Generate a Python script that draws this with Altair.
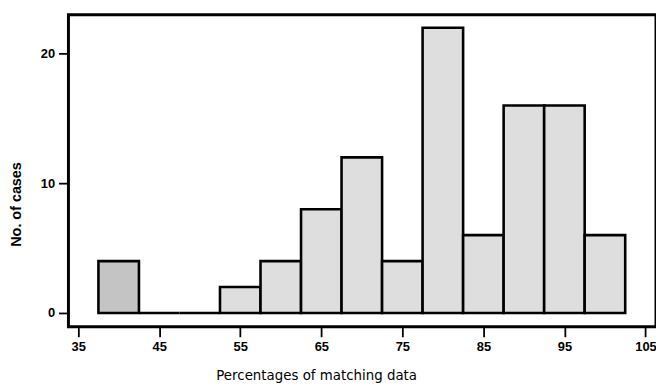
import altair as alt
import pandas as pd

bin_centers = [40, 45, 50, 55, 60, 65, 70, 75, 80, 85, 90, 95, 100]
counts = [4, 0, 0, 2, 4, 8, 12, 4, 22, 6, 16, 16, 6]
shade = ["dark", "light", "light", "light", "light", "light", "light", "light",
         "light", "light", "light", "light", "light"]
x_ticks = [35, 45, 55, 65, 75, 85, 95, 105]
y_ticks = [0, 10, 20]

df = pd.DataFrame({
    "lo": [c - 2.5 for c in bin_centers],
    "hi": [c + 2.5 for c in bin_centers],
    "n": counts,
    "shade": shade,
})

bars = alt.Chart(df).mark_rect(stroke="black", strokeWidth=2.6).encode(
    x=alt.X("lo:Q", scale=alt.Scale(domain=[33.8, 106.3], nice=False, zero=False),
            axis=alt.Axis(values=x_ticks, title="Percentages of matching data",
                          grid=False, domain=False, tickColor="black", tickSize=10,
                          tickWidth=1.8, labelFont="Liberation Sans", labelFontSize=13,
                          labelFontWeight="bold", labelColor="black", labelPadding=4,
                          titleFont="DejaVu Sans", titleFontSize=13.5, titleFontWeight="normal",
                          titleColor="black", titleX=250, titleY=49, titleBaseline="middle")),
    x2="hi:Q",
    y=alt.Y("n:Q", scale=alt.Scale(domain=[-1.07, 23.0], nice=False, zero=False),
            axis=alt.Axis(values=y_ticks, title="No. of cases", grid=False, domain=False,
                          tickColor="black", tickSize=10, tickWidth=1.8,
                          labelFont="Liberation Sans", labelFontSize=13, labelFontWeight="bold",
                          labelColor="black", labelPadding=4,
                          titleFont="Liberation Sans", titleFontSize=14.5,
                          titleFontWeight="bold", titleColor="black",
                          titleX=-52, titleY=191, titleAngle=-90, titleAlign="center",
                          titleBaseline="middle")),
    y2=alt.datum(0),
    fill=alt.Fill("shade:N", scale=alt.Scale(domain=["dark", "light"], range=["#c4c4c4", "#dedede"]),
                  legend=None),
)

chart = bars.properties(
    width=593, height=315,
    background="white",
    autosize=alt.AutoSizeParams(type="none"),
    padding={"left": 61, "top": 5, "right": 0, "bottom": 65},
).configure_view(stroke="black", strokeWidth=3)

chart.save("out.html", embed_options={"renderer": "svg", "actions": False})
